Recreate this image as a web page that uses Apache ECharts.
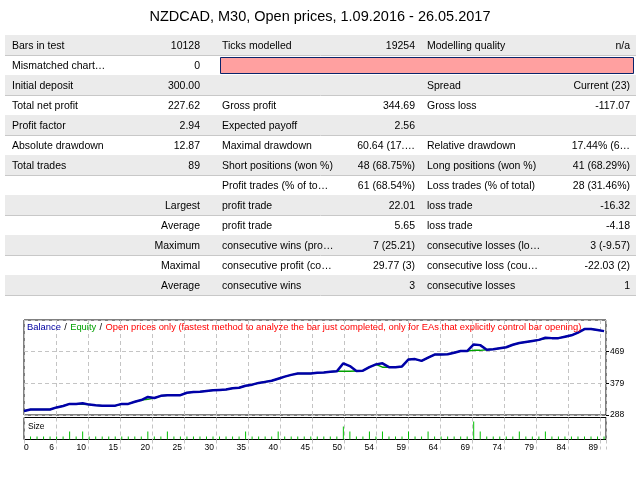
<!DOCTYPE html>
<html>
<head>
<meta charset="utf-8">
<script src="https://cdn.jsdelivr.net/npm/echarts@6/dist/echarts.min.js"></script>
<style>html,body{margin:0;padding:0;background:#fff}#main{width:640px;height:480px}</style>
</head>
<body>
<div id="main"></div>
<script>
var title = 'NZDCAD, M30, Open prices, 1.09.2016 - 26.05.2017';

// report table, 13 rows
var col1 = ['Bars in test','Mismatched chart\u2026','Initial deposit','Total net profit','Profit factor','Absolute drawdown','Total trades','','Largest','Average','Maximum','Maximal','Average'];
var col2 = ['10128','0','300.00','227.62','2.94','12.87','89','','','','','',''];
var col3 = ['Ticks modelled','','','Gross profit','Expected payoff','Maximal drawdown','Short positions (won %)','Profit trades (% of to\u2026','profit trade','profit trade','consecutive wins (pro\u2026','consecutive profit (co\u2026','consecutive wins'];
var col4 = ['19254','','','344.69','2.56','60.64 (17.\u2026','48 (68.75%)','61 (68.54%)','22.01','5.65','7 (25.21)','29.77 (3)','3'];
var col5 = ['Modelling quality','','Spread','Gross loss','','Relative drawdown','Long positions (won %)','Loss trades (% of total)','loss trade','loss trade','consecutive losses (lo\u2026','consecutive loss (cou\u2026','consecutive losses'];
var col6 = ['n/a','','Current (23)','-117.07','','17.44% (6\u2026','41 (68.29%)','28 (31.46%)','-16.32','-4.18','3 (-9.57)','-22.03 (2)','1'];

// balance / equity after each trade (trade 0 = start)
var balance = [300,304,304,304,304,310,314,320,320,322,
               318,316,315,315,315,320,320,326,331,340,
               337,343,345,345,345,352,354,355,357,359,
               360,361,365,366,372,375,380,383,386,392,
               398,403,407,407,407,409,410,412,413,436,
               428,414,415,425,433,436,425,425,427,447,
               448,443,452,461,461,462,466,471,471,490,
               488,475,476,479,482,489,494,497,500,503,
               509,508,508,512,516,524,534,534,531,528];
var equity  = [300,304,304,304,304,310,314,320,320,319,
               318,316,315,315,315,320,320,326,331,333,
               337,343,345,345,345,352,354,355,357,359,
               360,361,365,366,372,375,380,383,386,392,
               398,403,407,407,407,409,410,412,413,413,
               413,414,415,425,433,425,425,425,427,447,
               448,443,452,461,461,462,466,471,471,473,
               473,475,476,479,482,489,494,497,500,503,
               507,508,508,512,516,524,534,534,531,528];
// lot size of trades 1..89
var lots = [1,1,1,1,1,1,2,1,2,1,
            1,1,1,1,1,1,1,1,2,1,
            1,2,1,1,1,1,1,1,1,1,
            1,1,1,2,1,1,1,1,2,1,
            1,1,1,1,1,1,1,1,3,2,
            1,1,2,1,2,1,1,1,2,1,
            1,2,1,1,1,1,1,1,4,2,
            1,1,1,1,1,2,1,1,1,2,
            1,1,1,1,1,1,1,1,1];
var xTickLabels = ['0','6','10','15','20','25','30','35','40','45','50','54','59','64','69','74','79','84','89'];
var yBase = 288.3, yStep = 90.5;

var legendText = 'Open prices only (fastest method to analyze the bar just completed, only for EAs that explicitly control bar opening)';

var FONT = '"Liberation Sans", Arial, sans-serif';
var els = [];
els.push({type:'text', style:{text:title, x:320, y:17, align:'center', verticalAlign:'middle', font:'14.5px ' + FONT, fill:'#000'}});

for (var r = 0; r < col1.length; r++) {
	var y0 = 35 + r * 20;
	var yc = y0 + 11;
	if (r % 2 === 0) {
		els.push({type:'rect', shape:{x:5, y:y0, width:631, height:20}, style:{fill:'#ebebeb'}});
	}
	els.push({type:'line', shape:{x1:5, y1:y0 + 20.5, x2:636, y2:y0 + 20.5}, style:{stroke:'#c8c8c8', lineWidth:1}});
	var cells = [
		[col1[r], r >= 8 ? 200 : 12, r >= 8 ? 'right' : 'left'],
		[col2[r], 200, 'right'],
		[col3[r], 222, 'left'],
		[col4[r], 415, 'right'],
		[col5[r], 427, 'left'],
		[col6[r], 630, 'right']
	];
	for (var c = 0; c < cells.length; c++) {
		if (!cells[c][0]) continue;
		els.push({type:'text', z:10, style:{text:cells[c][0], x:cells[c][1], y:yc, align:cells[c][2], verticalAlign:'middle', font:'10.5px ' + FONT, fill:'#000'}});
	}
}
// mismatched chart errors bar
els.push({type:'rect', shape:{x:220.5, y:57.5, width:413, height:16}, style:{fill:'#ffa0a0', stroke:'#0a246a', lineWidth:1}});

// chart legend line
els.push({type:'text', z:20, style:{
	x:27, y:327, verticalAlign:'middle',
	text:'{b|Balance} {s|/} {e|Equity} {s|/} {r|' + legendText + '}',
	rich:{
		b:{fill:'#0000a0', fontSize:9.4, fontFamily:FONT},
		s:{fill:'#000', fontSize:9.4, fontFamily:FONT},
		e:{fill:'#00a000', fontSize:9.4, fontFamily:FONT},
		r:{fill:'#ff0000', fontSize:9.4, fontFamily:FONT}
	}
}});
els.push({type:'text', z:20, style:{text:'Size', x:28, y:427, verticalAlign:'middle', font:'8.5px ' + FONT, fill:'#000'}});

var dashed = {color:'#c4c4c4', type:[4,3], width:1};

var option = {
	animation:false,
	backgroundColor:'#fff',
	graphic:els,
	grid:[
		{left:24, top:320, width:582, height:95, show:true, borderColor:'#000', borderWidth:1, backgroundColor:'#fff'},
		{left:24, top:417.5, width:582, height:22, show:true, borderColor:'#000', borderWidth:1, backgroundColor:'#fff'}
	],
	xAxis:[
		{gridIndex:0, type:'value', min:0, max:89.3, show:false},
		{gridIndex:0, type:'value', min:0, max:18.1875, interval:1, axisLine:{show:false, onZero:false}, axisTick:{show:false}, axisLabel:{show:false}, splitLine:{show:true, lineStyle:dashed}},
		{gridIndex:1, type:'value', min:0, max:89.3, show:false},
		{gridIndex:1, type:'value', min:0, max:18.1875, interval:1, position:'bottom',
			axisLine:{show:false, onZero:false},
			axisTick:{show:true, length:10, lineStyle:dashed},
			axisLabel:{show:true, margin:4, align:'right', alignMinLabel:'left', padding:[0,2,0,0], color:'#000', fontSize:8.5, fontFamily:FONT,
				formatter:function(v){ return Number.isInteger(v) && xTickLabels[v] !== undefined ? xTickLabels[v] : ''; }},
			splitLine:{show:true, lineStyle:dashed}}
	],
	yAxis:[
		{gridIndex:0, type:'value', position:'right', min:0, max:3 * yStep, interval:yStep,
			axisLine:{show:false, onZero:false},
			axisTick:{show:true, length:3, lineStyle:{color:'#000'}},
			axisLabel:{show:true, showMaxLabel:false, margin:4, color:'#000', fontSize:8.5, fontFamily:FONT,
				formatter:function(v){ return String(Math.round(v + yBase)); }},
			splitLine:{show:true, lineStyle:dashed}},
		{gridIndex:1, type:'value', min:0.4, max:4.8, show:false}
	],
	series:[
		{type:'line', name:'Equity', xAxisIndex:0, yAxisIndex:0, z:2, showSymbol:false, symbol:'none',
			lineStyle:{color:'#00a000', width:1.5},
			data:equity.map(function(v, i){ return [i, v - yBase]; })},
		{type:'line', name:'Balance', xAxisIndex:0, yAxisIndex:0, z:3, showSymbol:false, symbol:'none',
			lineStyle:{color:'#0000a8', width:2.5},
			data:balance.map(function(v, i){ return [i, v - yBase]; })},
		{type:'bar', name:'Size', xAxisIndex:2, yAxisIndex:1, barWidth:1,
			itemStyle:{color:'#00c000'},
			data:lots.map(function(v, i){ return [i + 1, v]; })}
	]
};
var myChart = echarts.init(document.getElementById('main'));
myChart.setOption(option);
</script>
</body>
</html>
